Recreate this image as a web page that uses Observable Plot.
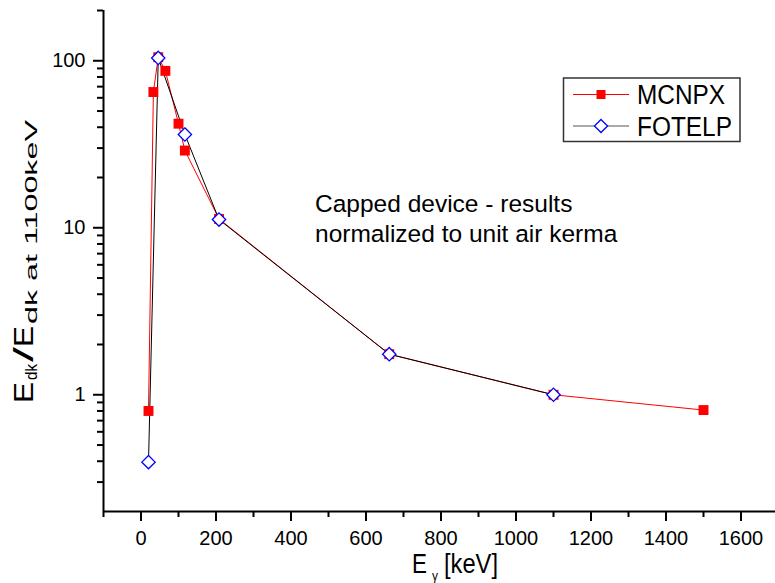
<!DOCTYPE html>
<html><head><meta charset="utf-8">
<script src="https://cdn.jsdelivr.net/npm/d3@7"></script>
<script src="https://cdn.jsdelivr.net/npm/@observablehq/plot@0.6"></script>
<style>body{margin:0;background:#fff} #chart svg{display:block}</style>
</head><body><div id="chart"></div>
<script>
// ---- data ----
const energyMCNPX = [20, 33, 46, 65, 100, 117, 208, 662, 1100, 1500];
const valuesMCNPX = [0.80, 65, 105, 87, 42, 29, 11.3, 1.75, 1.0, 0.81];
const energyFOTELP = [20, 46, 117, 208, 662, 1100];
const valuesFOTELP = [0.395, 104, 36.2, 11.2, 1.75, 1.0];
const seriesNames = ["MCNPX", "FOTELP"];
const xMajorTicks = [0, 200, 400, 600, 800, 1000, 1200, 1400, 1600];
const xMinorTicks = [-100, 100, 300, 500, 700, 900, 1100, 1300, 1500];
const yMajorTicks = [1, 10, 100];
const yMinorTicks = [0.3, 0.4, 0.5, 0.6, 0.7, 0.8, 0.9, 2, 3, 4, 5, 6, 7, 8, 9, 20, 30, 40, 50, 60, 70, 80, 90, 200];
const annotationLines = ["Capped device - results", "normalized to unit air kerma"];

const mcnpx = energyMCNPX.map((e, i) => ({e, v: valuesMCNPX[i]}));
const fotelp = energyFOTELP.map((e, i) => ({e, v: valuesFOTELP[i]}));

const FONT = "'Liberation Sans', Arial, Helvetica, sans-serif";

const plot = Plot.plot({
  width: 775, height: 583,
  marginLeft: 103, marginRight: 0, marginTop: 10, marginBottom: 72,
  style: {fontFamily: FONT, fontSize: "20px", background: "white", color: "black", overflow: "visible"},
  x: {domain: [-100, 1692]},
  y: {type: "log", domain: [0.2, 200]},
  marks: [
    Plot.axisX(xMajorTicks, {tickSize: 10, tickPadding: 9, strokeWidth: 2, fontSize: 20, label: null, tickFormat: d => String(d)}),
    Plot.axisX(xMinorTicks, {tickSize: 6, strokeWidth: 2, label: null, tickFormat: () => ""}),
    Plot.axisY(yMajorTicks, {tickSize: 10, tickPadding: 8, strokeWidth: 2, fontSize: 20, label: null, tickFormat: d => String(d)}),
    Plot.axisY(yMinorTicks, {tickSize: 6, strokeWidth: 2, label: null, tickFormat: () => ""}),
    Plot.ruleX([-100], {stroke: "black", strokeWidth: 2}),
    Plot.ruleY([0.2], {stroke: "black", strokeWidth: 2}),
    Plot.line(mcnpx, {x: "e", y: "v", stroke: "#ff0000", strokeWidth: 1}),
    Plot.line(fotelp, {x: "e", y: "v", stroke: "#000000", strokeWidth: 1}),
    Plot.dot(mcnpx, {x: "e", y: "v", symbol: "square", fill: "#ff0000", r: 5.6}),
    Plot.dot(fotelp, {x: "e", y: "v", symbol: "diamond2", fill: "white", stroke: "#0000ff", strokeWidth: 1.3, r: 6.0})
  ]
});

document.getElementById("chart").appendChild(plot);
const svg = d3.select(plot);

function addText(parent, s, x, y, size, len) {
  const t = parent.append("text").attr("font-family", FONT).attr("fill", "black").attr("text-anchor", "start")
    .attr("x", x).attr("y", y).attr("font-size", size).text(s);
  if (len) t.attr("textLength", len).attr("lengthAdjust", "spacingAndGlyphs");
  return t;
}

// annotation
annotationLines.forEach((t, i) => addText(svg, t, 315, 212 + i * 29.5, 24.5));

// x title
addText(svg, "E", 412, 573, 28, 15);
addText(svg, "γ", 432, 580, 12);
addText(svg, "[keV]", 444, 573, 28, 54);

// y title (rotated)
const yg = svg.append("g").attr("transform", "translate(33,403) rotate(-90)");
addText(yg, "E", 0, 0, 28, 21);
addText(yg, "dk", 23, 4, 16, 16);
addText(yg, "/", 41, 0, 28, 15);
addText(yg, "E", 56, 0, 28, 21);
addText(yg, "dk at 1100keV", 79, 4, 16, 204);

// legend
const lg = svg.append("g");
lg.append("rect").attr("x", 563.5).attr("y", 78).attr("width", 176.5).attr("height", 63.5)
  .attr("fill", "white").attr("stroke", "#333").attr("stroke-width", 1.5);
const rows = [
  {name: seriesNames[0], y: 94.5, len: 88, line: "#ff0000", sym: d3.symbolSquare, size: 81, fill: "#ff0000", stroke: "none"},
  {name: seriesNames[1], y: 126, len: 95, line: "#555555", sym: d3.symbolDiamond2, size: 110, fill: "white", stroke: "#0000ff"}
];
rows.forEach(r => {
  lg.append("line").attr("x1", 573).attr("x2", 629).attr("y1", r.y).attr("y2", r.y).attr("stroke", r.line).attr("stroke-width", 1);
  lg.append("path").attr("d", d3.symbol(r.sym, r.size)()).attr("transform", `translate(601,${r.y})`)
    .attr("fill", r.fill).attr("stroke", r.stroke).attr("stroke-width", 1.3);
  addText(lg, r.name, 637, r.y + 9.5, 27, r.len);
});
</script>
</body></html>
